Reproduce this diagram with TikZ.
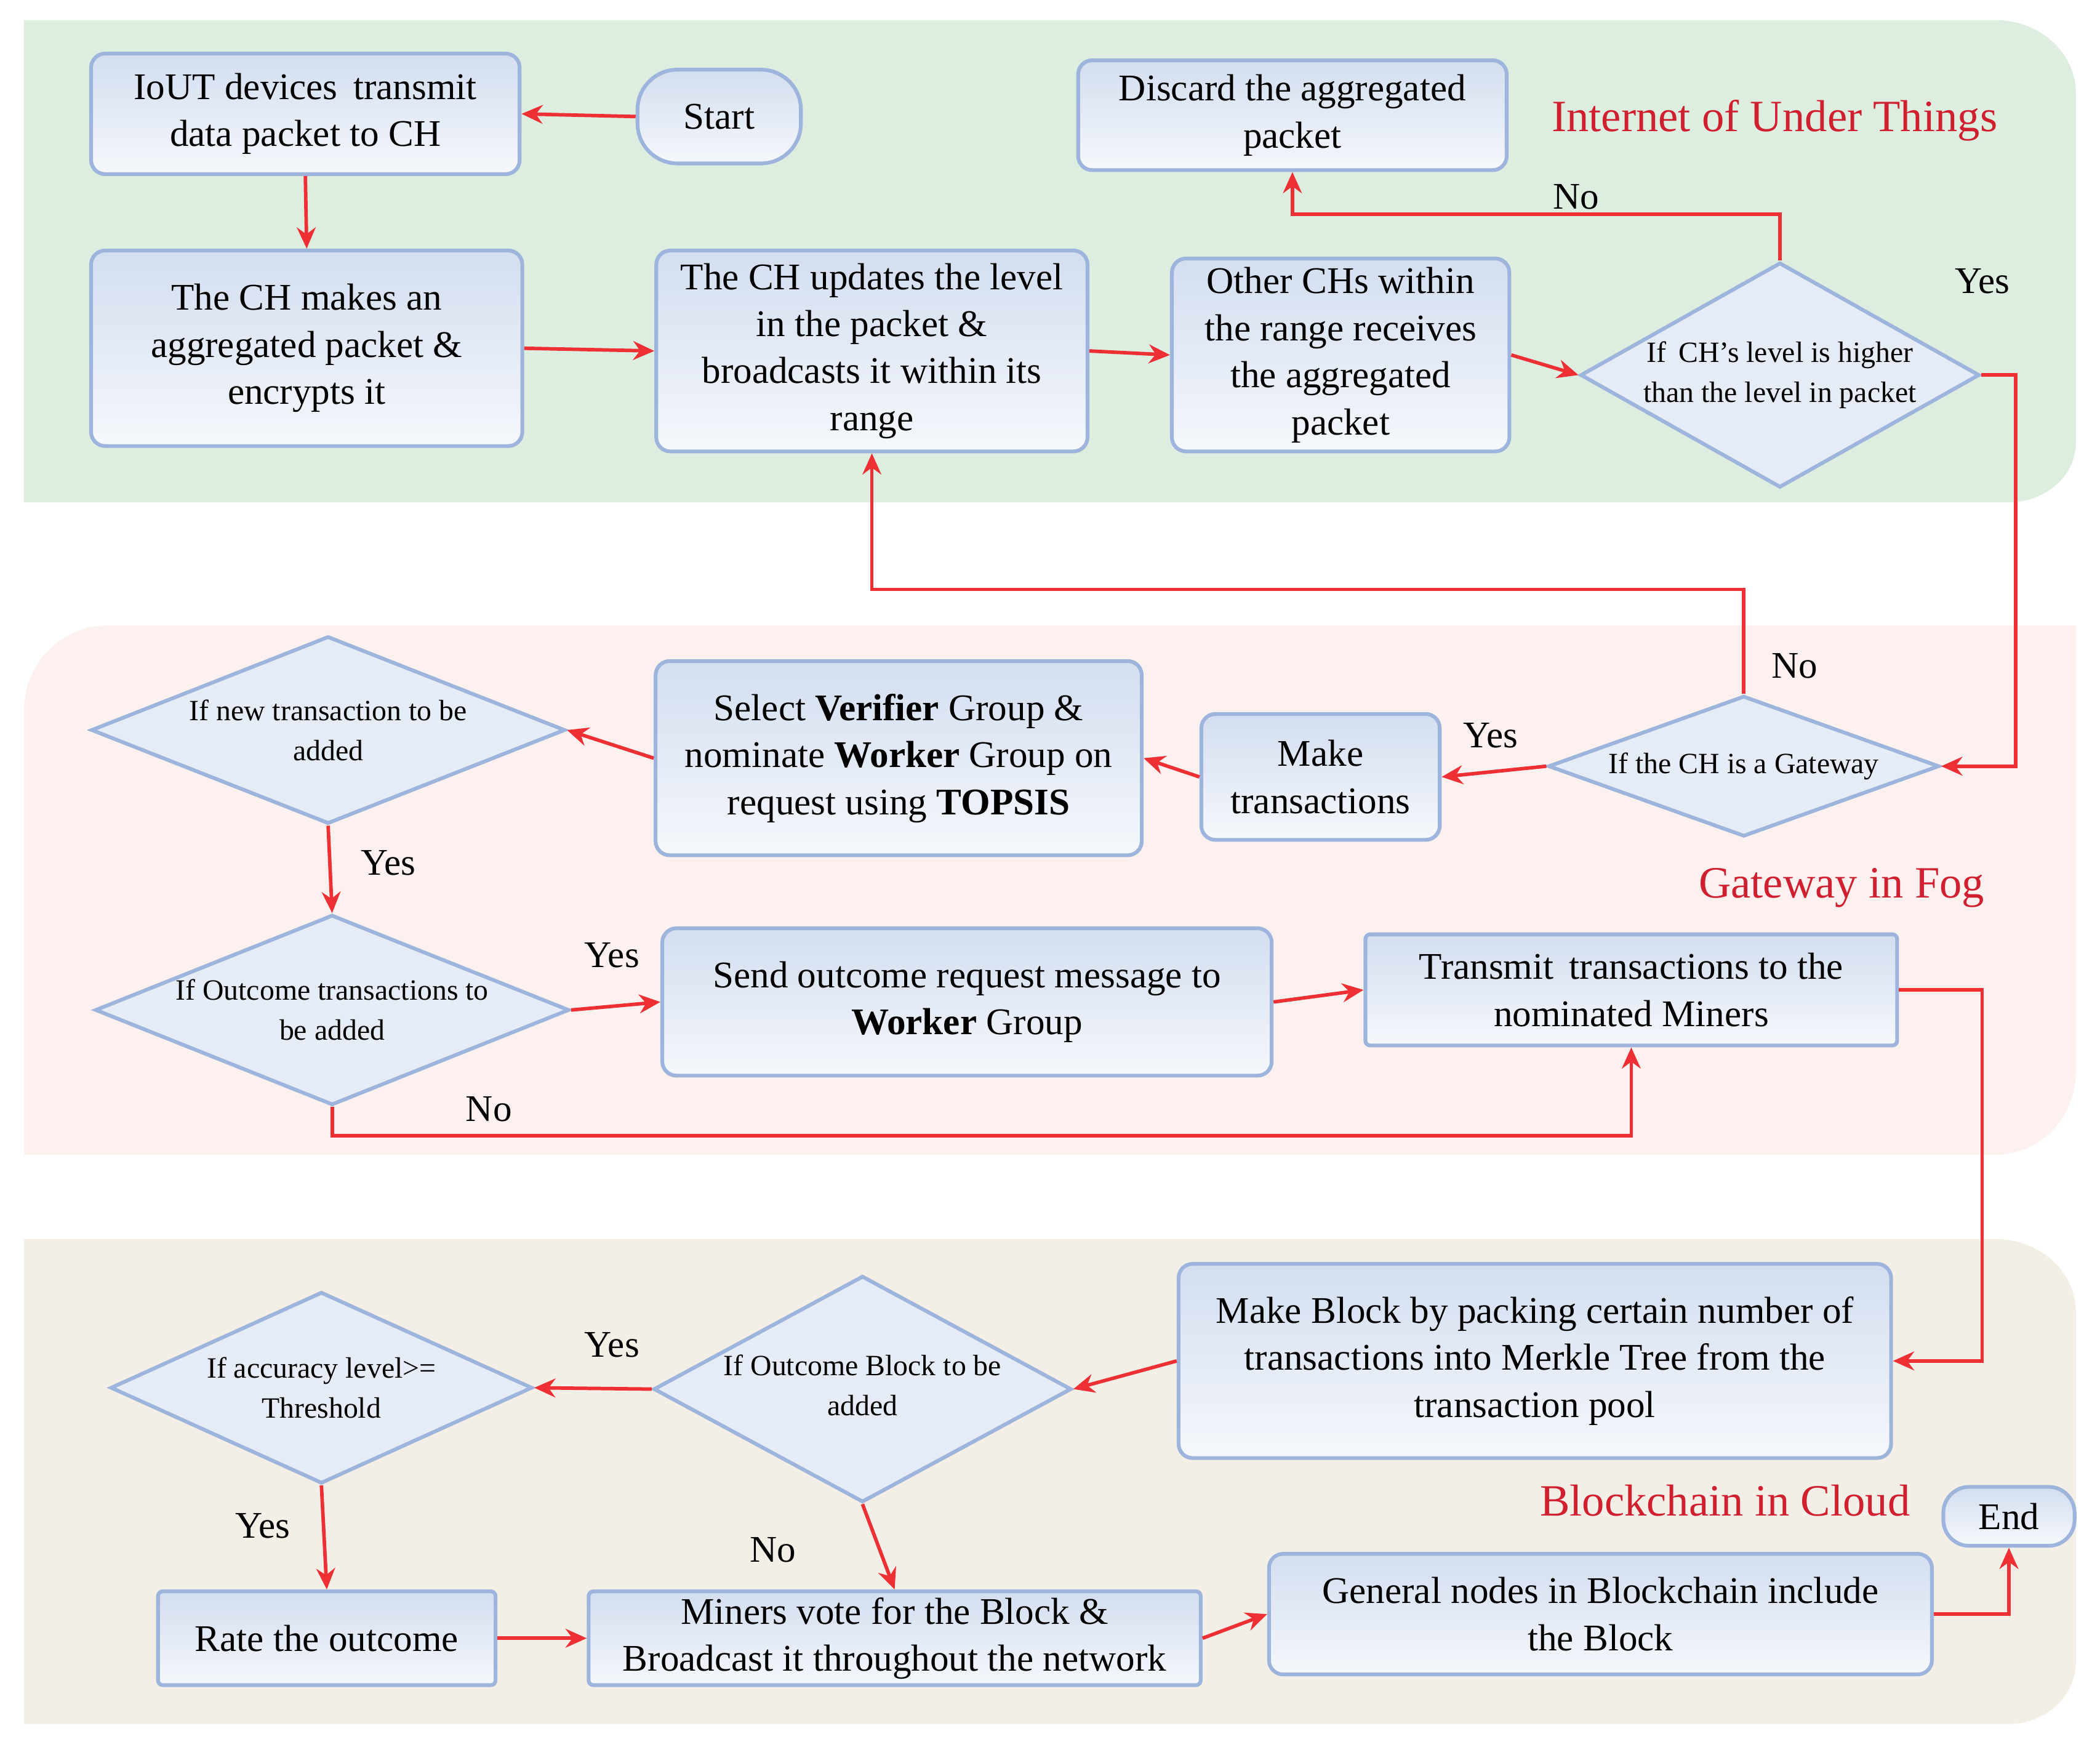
\documentclass[tikz,border=0pt]{standalone}
\usepackage{fontspec}
\setmainfont{Liberation Serif}
\usetikzlibrary{shapes.geometric,arrows.meta}
\definecolor{band1}{HTML}{DDEEE1}
\definecolor{band2}{HTML}{FCF1EF}
\definecolor{band3}{HTML}{F4EFE6}
\definecolor{bord}{HTML}{9DB5DC}
\definecolor{arr}{HTML}{EE3035}
\definecolor{lab}{HTML}{D02030}
\begin{document}
\begin{tikzpicture}[x=0.02cm,y=-0.02cm,
  sz/.style 2 args={minimum width=#1*0.02cm, minimum height=#2*0.02cm},
  box/.style={draw=bord, line width=1.6pt, rounded corners=6pt, top color=bord!45!white, bottom color=bord!10!white, align=center, font=\fontsize{16}{20}\selectfont, inner sep=2pt},
  dia/.style={diamond, draw=bord, line width=1.6pt, fill=bord!25!white, inner sep=0pt},
  dtxt/.style={align=center, font=\fontsize{12.5}{17}\selectfont},
  el/.style={font=\fontsize{16}{20}\selectfont},
  ttl/.style={font=\fontsize{19}{22}\selectfont, text=lab},
  ar/.style={draw=arr, line width=1.5pt, -{Stealth[length=9pt,width=8pt]}}]
\useasboundingbox (0,0) rectangle (1568,1298);
% bands
\fill[band1] (18,15) -- (1490,15) to[out=0,in=90] (1550,70) -- (1550,330) to[out=-90,in=0] (1500,375) -- (18,375) -- cycle;
\fill[band2] (80,467) -- (1550,467) -- (1550,800) to[out=-90,in=0] (1490,862) -- (18,862) -- (18,530) to[out=90,in=180] cycle;
\fill[band3] (18,925) -- (1490,925) to[out=0,in=90] (1550,980) -- (1550,1240) to[out=-90,in=0] (1500,1287) -- (18,1287) -- cycle;
\node[ttl] (t1) at (1325,90) {Internet of Under Things};
\node[ttl] (t2) at (1375,663) {Gateway in Fog};
\node[ttl] (t3) at (1288,1120) {Blockchain in Cloud};
% nodes
\node[box,sz={320}{90}] (iot) at (228,85) {IoUT devices\, transmit\\data packet to CH};
\node[box,sz={122}{70},rounded corners=17pt] (start) at (537,87) {Start};
\node[box,sz={322}{146}] (ch1) at (229,260) {The CH makes an\\aggregated packet \&\\encrypts it};
\node[box,sz={322}{150}] (upd) at (651,262) {The CH updates the level\\in the packet \&\\broadcasts it within its\\range};
\node[box,sz={252}{144}] (oth) at (1001,265) {Other CHs within\\the range receives\\the aggregated\\packet};
\node[dia,sz={298}{168}] (d1) at (1329,280) {};
\node[dtxt] (d1t) at (1329,280) {If\, CH’s level is higher\\than the level in packet};
\node[box,sz={320}{82}] (disc) at (965,86) {Discard the aggregated\\packet};
\node[dia,sz={292}{105}] (gw) at (1302,572) {};
\node[dtxt] (gwt) at (1302,572) {If the CH is a Gateway};
\node[box,sz={178}{94}] (mt) at (986,580) {Make\\transactions};
\node[box,sz={363}{145}] (sel) at (671,566) {Select \textbf{Verifier} Group \&\\nominate \textbf{Worker} Group on\\request using \textbf{TOPSIS}};
\node[dia,sz={354}{140}] (nt) at (245,545) {};
\node[dtxt] (ntt) at (245,545) {If new transaction to be\\added};
\node[dia,sz={354}{142}] (ot) at (248,754) {};
\node[dtxt] (ott) at (248,754) {If Outcome transactions to\\be added};
\node[box,sz={455}{110}] (send) at (722,748) {Send outcome request message to\\\textbf{Worker} Group};
\node[box,sz={397}{83},rounded corners=2pt] (tr) at (1218,739) {Transmit\, transactions to the\\nominated Miners};
\node[box,sz={532}{145}] (mb) at (1146,1016) {Make Block by packing certain number of\\transactions into Merkle Tree from the\\transaction pool};
\node[dia,sz={312}{169}] (ob) at (644,1037) {};
\node[dtxt] (obt) at (644,1034) {If Outcome Block to be\\added};
\node[dia,sz={315}{143}] (ac) at (240,1036) {};
\node[dtxt] (act) at (240,1036) {If accuracy level>=\\Threshold};
\node[box,sz={252}{70},rounded corners=2pt] (rate) at (244,1223) {Rate the outcome};
\node[box,sz={457}{70},rounded corners=2pt] (min) at (668,1223) {Miners vote for the Block \&\\Broadcast it throughout the network};
\node[box,sz={495}{90}] (gen) at (1195,1205) {General nodes in Blockchain include\\the Block};
\node[box,sz={98}{44},rounded corners=11pt] (end) at (1500,1132) {End};
% edge labels
\node[el] (l1) at (1177,147) {No};
\node[el] (l2) at (1480,210) {Yes};
\node[el] (l3) at (1340,497) {No};
\node[el] (l4) at (1113,549) {Yes};
\node[el] (l5) at (290,644) {Yes};
\node[el] (l6) at (457,713) {Yes};
\node[el] (l7) at (365,828) {No};
\node[el] (l8) at (457,1004) {Yes};
\node[el] (l9) at (196,1139) {Yes};
\node[el] (l10) at (577,1157) {No};
% arrows
\draw[ar] (start.west) -- (iot.east);
\draw[ar] (iot.south) -- (ch1.north);
\draw[ar] (ch1.east) -- (upd.west);
\draw[ar] (upd.east) -- (oth.west);
\draw[ar] (oth.east) -- (d1.west);
\draw[ar] (d1.north) |- (965,160) -- (disc.south);
\draw[ar] (d1.east) -- (1505,280) |- (gw.east);
\draw[ar] (gw.north) |- (651,440) -- (upd.south);
\draw[ar] (gw.west) -- (mt.east);
\draw[ar] (mt.west) -- (sel.east);
\draw[ar] (sel.west) -- (nt.east);
\draw[ar] (nt.south) -- (ot.north);
\draw[ar] (ot.east) -- (send.west);
\draw[ar] (ot.south) |- (1218,848) -- (tr.south);
\draw[ar] (send.east) -- (tr.west);
\draw[ar] (tr.east) -- (1480,739) |- (mb.east);
\draw[ar] (mb.west) -- (ob.east);
\draw[ar] (ob.west) -- (ac.east);
\draw[ar] (ac.south) -- (rate.north);
\draw[ar] (ob.south) -- (min.north);
\draw[ar] (rate.east) -- (min.west);
\draw[ar] (min.east) -- (gen.west);
\draw[ar] (gen.east) -| (end.south);
\end{tikzpicture}
\end{document}
